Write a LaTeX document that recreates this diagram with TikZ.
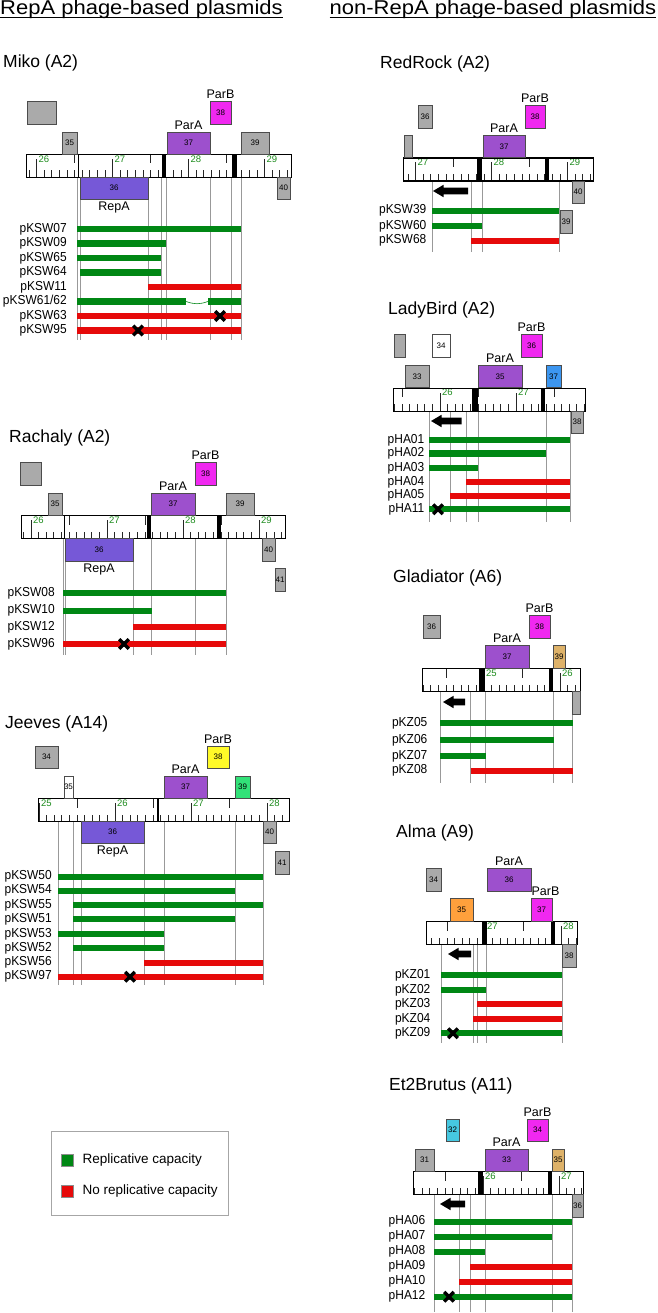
\documentclass[tikz,border=0pt]{standalone}
\usepackage{fontspec}
\setmainfont{Liberation Sans}
\usepackage{graphicx}
\definecolor{parA}{RGB}{157,80,205}
\definecolor{repA}{RGB}{118,88,215}
\definecolor{parB}{RGB}{240,40,240}
\definecolor{gg}{RGB}{170,170,170}
\definecolor{yel}{RGB}{255,250,40}
\definecolor{sgr}{RGB}{50,225,120}
\definecolor{blu}{RGB}{60,150,240}
\definecolor{tanc}{RGB}{222,178,105}
\definecolor{ora}{RGB}{255,160,60}
\definecolor{cya}{RGB}{70,200,225}
\definecolor{barG}{RGB}{0,135,20}
\definecolor{barR}{RGB}{230,10,10}
\definecolor{numG}{RGB}{30,140,30}
\tikzset{
 gene/.style={draw=black!70, line width=0.6pt, inner sep=0pt, font=\fontsize{8}{8}\selectfont},
 vl/.style={draw=black!40, line width=0.7pt},
 gbar/.style={line width=6.3pt, draw=barG},
 rbar/.style={line width=6.3pt, draw=barR},
 rowlab/.style={anchor=east, inner sep=0pt, font=\fontsize{13}{13}\selectfont},
 ttl/.style={anchor=base west, inner sep=0pt, font=\fontsize{17.5}{18}\selectfont},
 plab/.style={inner sep=0pt, font=\fontsize{12.5}{13}\selectfont},
 rnum/.style={anchor=north west, inner sep=0pt, text=numG, font=\fontsize{9.5}{9.5}\selectfont},
 tick/.style={line width=0.7pt, draw=black!85},
 sep/.style={line width=1pt, draw=black},
 hdr/.style={anchor=base west, inner sep=0pt, font=\fontsize{20}{20}\selectfont},
 leglab/.style={anchor=west, inner sep=0pt, font=\fontsize{13.5}{14}\selectfont},
}
\newcommand\gb[7]{\node[gene,fill=#6,minimum width={#4-#2},minimum height={#5-#3}] (#1) at ({(#2+#4)/2},{(#3+#5)/2}) {#7};}
\newcommand\prow[7]{\node[rowlab] (#1) at (#2,#3) {\scalebox{0.92}[1]{#4}}; \draw[#5] (#6,#3) -- (#7,#3);}
\newcommand\vlines[3]{\foreach \xx in {#3}{\draw[vl] (\xx,#1) -- (\xx,#2);}}
\newcommand\xm[2]{\draw[line width=3.4pt] ({#1-4.8},{#2-4.8}) -- ({#1+4.8},{#2+4.8}) ({#1-4.8},{#2+4.8}) -- ({#1+4.8},{#2-4.8});}
\newcommand\larr[3]{\fill (#1,#3) -- ({#1+10.5},{#3-6.2}) -- ({#1+10.5},{#3-3.4}) -- (#2,{#3-3.4}) -- (#2,{#3+3.4}) -- ({#1+10.5},{#3+3.4}) -- ({#1+10.5},{#3+6.2}) -- cycle;}
\newcommand\ruler[6]{%
 \begin{scope}
  \clip (#1,#3) rectangle (#2,{#3+23});
  \foreach \i in {-20,...,50}{\draw[tick] ({#4+7.6*\i},{#3+23}) -- ++(0,-6.5);}
  \foreach \k in {-2,...,4}{\draw[tick] ({#4+76*\k},{#3+23}) -- ++(0,-18); \draw[tick] ({#4+76*\k+38},#3) -- ++(0,9.5);}
 \end{scope}
 \foreach \n [count=\c from 0] in {#5}{\node[rnum] at ({#4+76*\c+1.8},{#3+1.5}) {\n};}
 \node[draw, line width=1.3pt, inner sep=0pt, minimum width={#2-#1}, minimum height=23, anchor=north west] (#6) at (#1,#3) {};
}
\begin{document}
\begin{tikzpicture}[x=1pt,y=-1pt]
\useasboundingbox (0,0) rectangle (657,1313);
\fill[white] (0,0) rectangle (657,1313);
% headers
\node[hdr] (h1) at (0,14.5) {\scalebox{1.1}[1]{RepA phage-based plasmids}};
\draw[line width=0.9pt] ([yshift=-2.6pt]h1.base west) -- ([yshift=-2.6pt]h1.base east);
\node[hdr] (h2) at (329.5,14.5) {\scalebox{1.1}[1]{non-RepA phage-based plasmids}};
\draw[line width=0.9pt] ([yshift=-2.6pt]h2.base west) -- ([yshift=-2.6pt]h2.base east);

% ================= Miko
\node[ttl] (tm) at (3,67.5) {Miko (A2)};
\vlines{177}{340}{77,80,148,161,166,210,231,241}
\prow{m1}{67}{229}{pKSW07}{gbar}{77}{241}
\prow{m2}{67}{243.5}{pKSW09}{gbar}{77}{166}
\prow{m3}{67}{258}{pKSW65}{gbar}{77}{161}
\prow{m4}{67}{272.5}{pKSW64}{gbar}{80}{161}
\prow{m5}{67}{287}{pKSW11}{rbar}{148}{241}
\prow{m6}{67}{301.5}{pKSW61/62}{gbar}{77}{186}
\draw[gbar] (208,301.5) -- (241,301.5);
\draw[barG, line width=0.6pt] (186,301.5) .. controls (195,304.5) and (199,304.5) .. (208,301.5);
\prow{m7}{67}{316}{pKSW63}{rbar}{77}{241}
\xm{220}{316}
\prow{m8}{67}{330.5}{pKSW95}{rbar}{77}{241}
\xm{138}{330.5}
\ruler{26}{291}{154}{36.5}{26,27,28,29}{mr}
\draw[sep] (78.5,154) -- (78.5,177);
\fill (161.5,154) rectangle (166,177);
\fill (232,154) rectangle (236.5,177);
\gb{m0}{27}{101}{56}{124}{gg}{}
\gb{m35}{62}{132}{77}{154}{gg}{35}
\gb{m37}{167}{132}{210}{154}{parA}{37}
\gb{m38}{210}{101}{231}{124}{parB}{38}
\gb{m39}{241}{132}{269}{154}{gg}{39}
\gb{m36}{80}{177}{148}{199}{repA}{36}
\gb{m40}{277}{177}{290}{199}{gg}{40}
\node[plab,anchor=south] (mpa) at ([yshift=2pt]m37.north) {ParA};
\node[plab,anchor=south] (mpb) at ([yshift=2pt]m38.north) {ParB};
\node[plab,anchor=north] (mra) at ([yshift=-2pt]m36.south) {RepA};

% ================= Rachaly
\node[ttl] (tr) at (9,442) {Rachaly (A2)};
\vlines{538}{655}{63,65,133,151.5,195,226}
\prow{r1}{55}{593.3}{pKSW08}{gbar}{63}{226}
\prow{r2}{55}{610.7}{pKSW10}{gbar}{63}{151.5}
\prow{r3}{55}{627.3}{pKSW12}{rbar}{133}{226}
\prow{r4}{55}{644}{pKSW96}{rbar}{63}{226}
\xm{124}{644}
\ruler{21}{285}{515}{31}{26,27,28,29}{rr}
\draw[sep] (64.3,515) -- (64.3,538);
\fill (146.7,515) rectangle (151,538);
\fill (217,515) rectangle (221,538);
\gb{r0}{20}{462}{41}{485}{gg}{}
\gb{r38}{195}{462}{216}{485}{parB}{38}
\gb{r37}{151}{493}{195}{515}{parA}{37}
\gb{r35}{48}{493}{62}{515}{gg}{35}
\gb{r39}{226}{493}{254}{515}{gg}{39}
\gb{r36}{65}{538}{133}{561}{repA}{36}
\gb{r40}{262}{538}{275}{561}{gg}{40}
\gb{r41}{275}{568}{285}{591}{gg}{41}
\node[plab,anchor=south] (rpa) at ([yshift=2pt]r37.north) {ParA};
\node[plab,anchor=south] (rpb) at ([yshift=2pt]r38.north) {ParB};
\node[plab,anchor=north] (rra) at ([yshift=-2pt]r36.south) {RepA};

% ================= Jeeves
\node[ttl] (tj) at (5,728.7) {Jeeves (A14)};
\vlines{821}{985}{58.3,73.3,81,144.3,164,235,263.3}
\prow{j1}{52}{876.7}{pKSW50}{gbar}{58.3}{263.3}
\prow{j2}{52}{890.7}{pKSW54}{gbar}{58.3}{235}
\prow{j3}{52}{905.3}{pKSW55}{gbar}{73.3}{263.3}
\prow{j4}{52}{919.3}{pKSW51}{gbar}{73.3}{235}
\prow{j5}{52}{934}{pKSW53}{gbar}{58.3}{164}
\prow{j6}{52}{948}{pKSW52}{gbar}{73.3}{164}
\prow{j7}{52}{962.7}{pKSW56}{rbar}{144.3}{263.3}
\prow{j8}{52}{976.7}{pKSW97}{rbar}{58.3}{263.3}
\xm{130}{976.7}
\ruler{38}{289}{798}{39}{25,26,27,28}{jr}
\fill (156.5,798) rectangle (158.5,821);
\gb{j34}{35}{746}{58}{768}{gg}{34}
\gb{j38}{207}{746}{229}{768}{yel}{38}
\gb{j37}{164}{776}{207}{798}{parA}{37}
\gb{j35}{64}{776}{73}{798}{white}{35}
\gb{j39}{235}{776}{250}{798}{sgr}{39}
\gb{j36}{81}{821}{144}{843}{repA}{36}
\gb{j40}{263}{821}{276}{843}{gg}{40}
\gb{j41}{275}{851}{289}{874}{gg}{41}
\node[plab,anchor=south] (jpa) at ([yshift=2pt]j37.north) {ParA};
\node[plab,anchor=south] (jpb) at ([yshift=2pt]j38.north) {ParB};
\node[plab,anchor=north] (jra) at ([yshift=-2pt]j36.south) {RepA};

% ================= Legend
\node[draw=black!35, line width=0.8pt, inner sep=0pt, minimum width=177.5, minimum height=84, anchor=north west] (leg) at (50.5,1131) {};
\node[draw=black!45, fill=barG, line width=0.5pt, inner sep=0pt, minimum size=12] (lg) at (67,1160) {};
\node[draw=black!45, fill=barR, line width=0.5pt, inner sep=0pt, minimum size=12] (lr) at (67,1191) {};
\node[leglab] (lgt) at (82.5,1160) {Replicative capacity};
\node[leglab] (lrt) at (82.5,1191) {No replicative capacity};

% ================= RedRock
\node[ttl] (tR) at (380,68.7) {RedRock (A2)};
\vlines{181}{252}{432,471,482,559}
\prow{R1}{426.5}{210.7}{pKSW39}{gbar}{432}{559}
\prow{R2}{426.5}{226}{pKSW60}{gbar}{432}{482}
\prow{R3}{426.5}{240.7}{pKSW68}{rbar}{471}{559}
\larr{433}{468}{191}
\ruler{403}{593}{157.5}{415.5}{27,28,29}{Rr}
\fill (477,157.5) rectangle (482,180.5);
\fill (545,157.5) rectangle (549,180.5);
\gb{R36}{418}{105}{432}{128}{gg}{36}
\gb{R38}{525}{105}{545}{128}{parB}{38}
\gb{R37}{483}{135}{525}{157.5}{parA}{37}
\gb{R0}{404}{135}{412}{157.5}{gg}{}
\gb{R40}{572}{181}{584}{203}{gg}{40}
\gb{R39}{560}{210}{572}{233}{gg}{39}
\node[plab,anchor=south] (Rpa) at ([yshift=2pt]R37.north) {ParA};
\node[plab,anchor=south] (Rpb) at ([yshift=2pt]R38.north) {ParB};

% ================= LadyBird
\node[ttl] (tL) at (388,314.3) {LadyBird (A2)};
\vlines{411}{522}{429,450,466,478,546,570}
\prow{L1}{424.5}{440}{pHA01}{gbar}{429}{570}
\prow{L2}{424.5}{453.5}{pHA02}{gbar}{429}{546}
\prow{L3}{424.5}{468}{pHA03}{gbar}{429}{478}
\prow{L4}{424.5}{482}{pHA04}{rbar}{466}{570}
\prow{L5}{424.5}{495.7}{pHA05}{rbar}{450}{570}
\prow{L6}{424.5}{509.3}{pHA11}{gbar}{429}{570}
\xm{438}{509.3}
\larr{431}{461.5}{421}
\ruler{393}{585}{387.5}{440}{26,27}{Lr}
\fill (472,387.5) rectangle (478,410.5);
\fill (541,387.5) rectangle (545,410.5);
\gb{L0}{394}{334}{405}{357}{gg}{}
\gb{L34}{432}{334}{450}{357}{white}{34}
\gb{L36}{521}{334}{542}{357}{parB}{36}
\gb{L35}{478}{365}{522}{387.5}{parA}{35}
\gb{L33}{405}{365}{429}{387.5}{gg}{33}
\gb{L37}{546}{365}{561}{387.5}{blu}{37}
\gb{L38}{571}{411}{583}{433}{gg}{38}
\node[plab,anchor=south] (Lpa) at ([yshift=2pt]L35.north) {ParA};
\node[plab,anchor=south] (Lpb) at ([yshift=2pt]L36.north) {ParB};

% ================= Gladiator
\node[ttl] (tG) at (393,582.7) {Gladiator (A6)};
\vlines{691}{783}{440,470.5,485.5,553.5,572.5}
\prow{G1}{427.5}{723.3}{pKZ05}{gbar}{440}{572.5}
\prow{G2}{427.5}{740}{pKZ06}{gbar}{440}{553.5}
\prow{G3}{427.5}{756}{pKZ07}{gbar}{440}{485.5}
\prow{G4}{427.5}{770.7}{pKZ08}{rbar}{470.5}{572.5}
\larr{443}{465}{702}
\ruler{422}{580}{668}{484}{25,26}{Gr}
\fill (479,668) rectangle (485,691);
\fill (549,668) rectangle (553,691);
\gb{G36}{423}{615}{440}{638}{gg}{36}
\gb{G38}{529}{615}{550}{638}{parB}{38}
\gb{G37}{485}{645.5}{529}{668}{parA}{37}
\gb{G39}{553}{645.5}{565}{668}{tanc}{39}
\gb{G0}{572}{691}{580}{714}{gg}{}
\node[plab,anchor=south] (Gpa) at ([yshift=2pt]G37.north) {ParA};
\node[plab,anchor=south] (Gpb) at ([yshift=2pt]G38.north) {ParB};

% ================= Alma
\node[ttl] (tA) at (396,837.7) {Alma (A9)};
\vlines{944}{1043}{441,473,477,486,562}
\prow{A1}{430.5}{975}{pKZ01}{gbar}{441}{562}
\prow{A2}{430.5}{990}{pKZ02}{gbar}{441}{486}
\prow{A3}{430.5}{1004}{pKZ03}{rbar}{477}{562}
\prow{A4}{430.5}{1019}{pKZ04}{rbar}{473}{562}
\prow{A5}{430.5}{1033.3}{pKZ09}{gbar}{441}{562}
\xm{453}{1033.3}
\larr{448}{471}{954}
\ruler{426}{577}{921}{485}{27,28}{Ar}
\fill (482,921) rectangle (487,944);
\fill (551,921) rectangle (555,944);
\gb{A34}{426}{868}{441}{891}{gg}{34}
\gb{A36}{487}{868}{531}{891}{parA}{36}
\gb{A35}{450}{898}{473}{921}{ora}{35}
\gb{A37}{531}{898}{552}{921}{parB}{37}
\gb{A38}{562}{944}{576}{967}{gg}{38}
\node[plab,anchor=south] (Apa) at ([yshift=2pt]A36.north) {ParA};
\node[plab,anchor=south] (Apb) at ([xshift=4pt,yshift=2pt]A37.north) {ParB};

% ================= Et2Brutus
\node[ttl] (tE) at (389,1090) {Et2Brutus (A11)};
\vlines{1194}{1312}{434,459,470,485,552,572}
\prow{E1}{425.5}{1221.7}{pHA06}{gbar}{434}{572}
\prow{E2}{425.5}{1236.7}{pHA07}{gbar}{434}{552}
\prow{E3}{425.5}{1251.7}{pHA08}{gbar}{434}{485}
\prow{E4}{425.5}{1266.7}{pHA09}{rbar}{470}{572}
\prow{E5}{425.5}{1281.7}{pHA10}{rbar}{459}{572}
\prow{E6}{425.5}{1296.7}{pHA12}{gbar}{434}{572}
\xm{449}{1296.7}
\larr{440}{465}{1204}
\ruler{413}{583}{1171}{483}{26,27}{Er}
\fill (477.5,1171) rectangle (482.5,1194);
\fill (547.5,1171) rectangle (551.5,1194);
\gb{E32}{446}{1119}{459}{1141}{cya}{32}
\gb{E34}{527}{1119}{548}{1141}{parB}{34}
\gb{E33}{485}{1149}{528}{1171}{parA}{33}
\gb{E31}{415}{1149}{434}{1171}{gg}{31}
\gb{E35}{552}{1149}{564}{1171}{tanc}{35}
\gb{E36}{572}{1194}{583}{1217}{gg}{36}
\node[plab,anchor=south] (Epa) at ([yshift=2pt]E33.north) {ParA};
\node[plab,anchor=south] (Epb) at ([yshift=2pt]E34.north) {ParB};
\end{tikzpicture}
\end{document}
